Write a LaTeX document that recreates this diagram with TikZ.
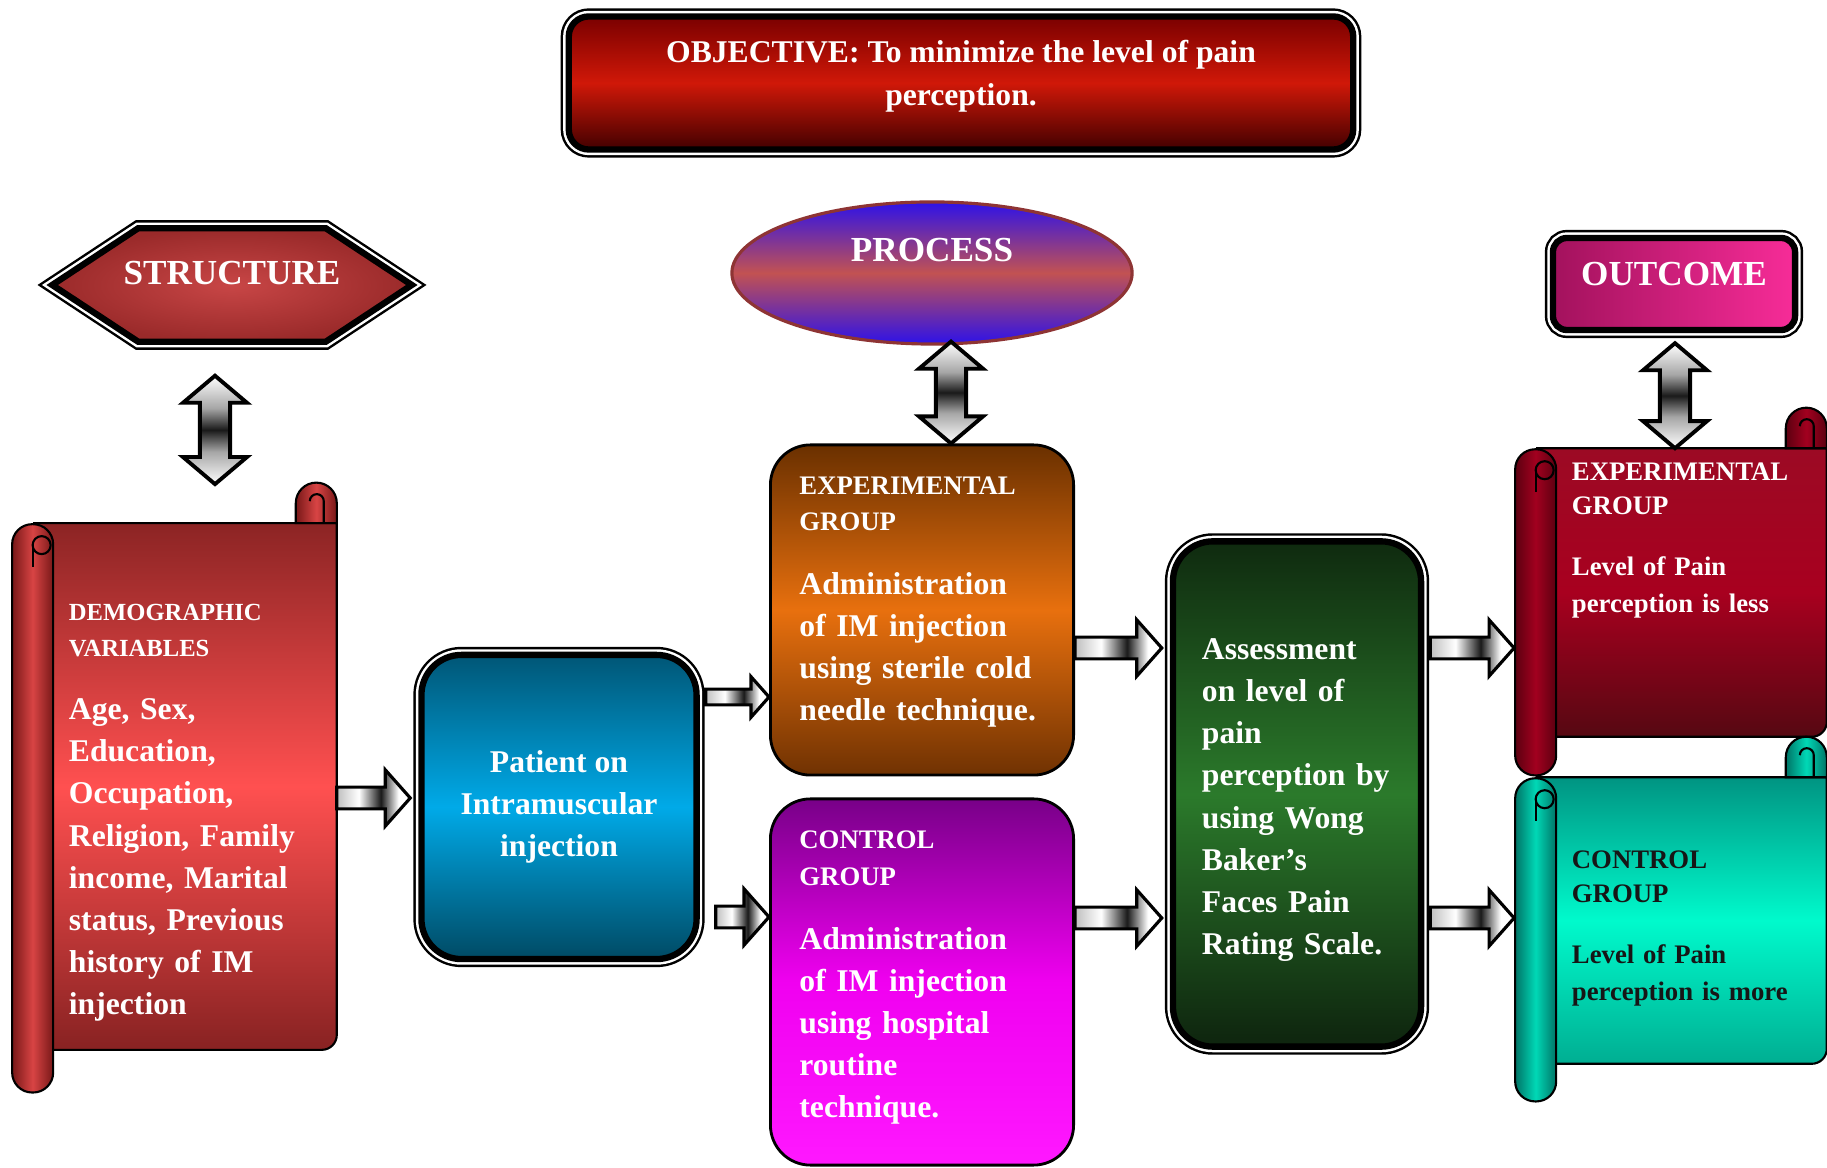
\documentclass[tikz,border=0pt]{standalone}
\usepackage{fontspec}
\setmainfont{Liberation Serif}
\usetikzlibrary{calc,shapes.geometric,backgrounds}

\definecolor{objtop}{HTML}{7A0000}
\definecolor{objmid}{HTML}{D01808}
\definecolor{objbot}{HTML}{420000}
\definecolor{hexin}{HTML}{C84646}
\definecolor{hexout}{HTML}{9A2A2A}
\definecolor{procblue}{HTML}{2E12E8}
\definecolor{procred}{HTML}{C25252}
\definecolor{procline}{HTML}{8E3434}
\definecolor{outleft}{HTML}{A3125D}
\definecolor{outright}{HTML}{F72C98}
\definecolor{demotop}{HTML}{8C2424}
\definecolor{demomid}{HTML}{FF5050}
\definecolor{demobot}{HTML}{882222}
\definecolor{demoedge}{HTML}{781818}
\definecolor{demoroll}{HTML}{D84444}
\definecolor{pattop}{HTML}{005676}
\definecolor{patmid}{HTML}{00AAE8}
\definecolor{patbot}{HTML}{004A64}
\definecolor{exptop}{HTML}{6A3000}
\definecolor{expmid}{HTML}{E8700E}
\definecolor{expbot}{HTML}{703202}
\definecolor{ctrltop}{HTML}{780088}
\definecolor{ctrlmid}{HTML}{F000F0}
\definecolor{ctrlbot}{HTML}{FF18FF}
\definecolor{asstop}{HTML}{0F2A0F}
\definecolor{assmid}{HTML}{2B7A2B}
\definecolor{assbot}{HTML}{0E240E}
\definecolor{lesstop}{HTML}{9C0A24}
\definecolor{lessmid}{HTML}{A8001F}
\definecolor{lessbot}{HTML}{560812}
\definecolor{lessedge}{HTML}{5C0010}
\definecolor{lessroll}{HTML}{A2001F}
\definecolor{moretop}{HTML}{009482}
\definecolor{moremid}{HTML}{00FACC}
\definecolor{morebot}{HTML}{00AE92}
\definecolor{moreedge}{HTML}{007466}
\definecolor{moreroll}{HTML}{00D8B6}
\definecolor{moretext}{HTML}{161616}

\pgfdeclarehorizontalshading{barh}{100bp}{color(0bp)=(black!25); color(25bp)=(black!25);
  color(40bp)=(white); color(55bp)=(black!90); color(67bp)=(white); color(100bp)=(white)}
\pgfdeclareverticalshading{barv}{100bp}{color(0bp)=(white); color(25bp)=(white);
  color(40bp)=(black!35); color(50bp)=(black!90); color(60bp)=(black!35);
  color(75bp)=(white); color(100bp)=(white)}

\tikzset{%
  dblframe/.style={draw=black,line width=1.8pt,
    preaction={draw=black,line width=4.6pt},
    preaction={draw=white,line width=3.2pt}},
  objbox/.style={rectangle,rounded corners=0.2cm,dblframe,
    minimum width=7.84cm,minimum height=1.33cm,text depth=0.2cm,align=center,
    top color=objtop,bottom color=objbot,middle color=objmid,text=white,
    font=\bfseries\fontsize{9}{12.2}\selectfont},
  hexlabel/.style={rectangle,minimum width=3.58cm,minimum height=1.12cm,
    text depth=0.24cm,text=white,font=\bfseries\fontsize{10}{12}\selectfont},
  hexfill/.style={dblframe,inner color=hexin,outer color=hexout},
  procellipse/.style={ellipse,minimum width=4cm,minimum height=1.42cm,inner sep=0pt,
    draw=procline,line width=0.9pt,top color=procblue,bottom color=procblue,
    middle color=procred,text depth=0.46cm,text=white,
    font=\bfseries\fontsize{10}{12}\selectfont},
  outbox/.style={rectangle,rounded corners=0.14cm,dblframe,minimum width=2.42cm,
    minimum height=0.92cm,left color=outleft,right color=outright,text depth=0.2cm,
    text=white,font=\bfseries\fontsize{10}{12}\selectfont},
  roundbox/.style={rectangle,rounded corners=0.4cm,text=white,
    font=\bfseries\fontsize{9}{12}\selectfont},
  patbox/.style={roundbox,dblframe,minimum width=2.75cm,minimum height=3.04cm,
    align=center,top color=pattop,bottom color=patbot,middle color=patmid},
  procbox/.style={roundbox,draw=black,line width=0.8pt,minimum width=3.03cm,
    text width=2.45cm,inner xsep=0.29cm,align=left},
  assbox/.style={roundbox,dblframe,minimum width=2.48cm,minimum height=5.05cm,
    text width=1.9cm,inner xsep=0.29cm,align=left,
    top color=asstop,bottom color=assbot,middle color=assmid},
  scrolltext/.style={rectangle,inner xsep=0.14cm,inner ysep=0pt,align=left,
    text=white,font=\bfseries\fontsize{9}{12}\selectfont},
  outtext/.style={scrolltext,text width=2.40cm,font=\bfseries\fontsize{7.6}{10.5}\selectfont},
  scrollline/.style={draw=black,line width=0.6pt},
  scrollroll/.style={rectangle,scrollline,rounded corners=0.2cm,
    minimum width=0.41cm,inner sep=0pt},
  demofill/.style={top color=demotop,bottom color=demobot,middle color=demomid},
  demorollfill/.style={left color=demoedge,right color=demoedge,middle color=demoroll},
  lessfill/.style={top color=lesstop,bottom color=lessbot,middle color=lessmid},
  lessrollfill/.style={left color=lessedge,right color=lessedge,middle color=lessroll},
  morefill/.style={top color=moretop,bottom color=morebot,middle color=moremid},
  morerollfill/.style={left color=moreedge,right color=moreedge,middle color=moreroll},
  arrowfill/.style={draw=black,line width=0.9pt,shading=barh},
  twowayfill/.style={draw=black,line width=1.1pt,shading=barv}
}

% block arrow from #2 to the x of #3, at the height of #2
\newcommand{\flowarrow}[3][1]{%
  \shadedraw[arrowfill] let \p1=#2, \p2=#3 in
    (\x1,{\y1+#1*3.1pt}) -- ({\x2-#1*7.1pt},{\y1+#1*3.1pt})
    -- ({\x2-#1*7.1pt},{\y1+#1*8pt}) -- (\x2,\y1)
    -- ({\x2-#1*7.1pt},{\y1-#1*8pt}) -- ({\x2-#1*7.1pt},{\y1-#1*3.1pt})
    -- (\x1,{\y1-#1*3.1pt}) -- cycle;}

% vertical double block arrow from #1 down to the height of #2
\newcommand{\twowayarrow}[2]{%
  \shadedraw[twowayfill] let \p1=#1, \p2=#2 in
    (\x1,\y1) -- (\x1+9.1pt,\y1-7.7pt) -- (\x1+4.3pt,\y1-7.7pt)
    -- (\x1+4.3pt,\y2+7.7pt) -- (\x1+9.1pt,\y2+7.7pt) -- (\x1,\y2)
    -- (\x1-9.1pt,\y2+7.7pt) -- (\x1-4.3pt,\y2+7.7pt)
    -- (\x1-4.3pt,\y1-7.7pt) -- (\x1-9.1pt,\y1-7.7pt) -- cycle;}

% scroll sheet behind a text node: body, left roll, curls
\newcommand{\scrollparts}[4]{%
  \begin{scope}[on background layer]
    \shadedraw[scrollline,#2] ($(#1.north west)+(-20,0)$) -- (#1.north east)
      -- ($(#1.south east)+(0,-15)$) arc[start angle=0,end angle=-90,radius=0.15cm]
      -- ($(#1.south west)+(-20,0)$) -- cycle;
    \node[scrollroll,#3,minimum height=#4,anchor=north east] (#1roll) at (#1.north west) {};
    \draw[scrollline] ($(#1roll.north)+(9,22)$) circle[radius=0.09cm];
    \draw[scrollline] ($(#1roll.north)+(0,22)$) -- ++(0,22);
    \shadedraw[scrollline,#3] ($(#1.north east)+(-41,0)$) -- ++(0,-20)
      arc[start angle=180,end angle=0,radius=0.205cm] -- ++(0,20) -- cycle;
    \draw[scrollline] ($(#1.north east)+(-13,0)$) -- ++(0,-22)
      arc[start angle=0,end angle=180,radius=0.07cm];
  \end{scope}}

\begin{document}
\begin{tikzpicture}[x=0.01cm,y=-0.01cm]
\useasboundingbox (0,0) rectangle (1827,1168);

% headings
\node[objbox] (objective) at (961,83) {OBJECTIVE: To minimize the level of pain\\perception.};
\node[hexlabel] (structure) at (232,285) {STRUCTURE};
\begin{scope}[on background layer]
  \shadedraw[hexfill] (structure.west) -- ($(structure.north west)+(86,0)$)
    -- ($(structure.north east)+(-86,0)$) -- (structure.east)
    -- ($(structure.south east)+(-86,0)$) -- ($(structure.south west)+(86,0)$) -- cycle;
\end{scope}
\node[procellipse] (process) at (932,273) {PROCESS};
\node[outbox] (outcome) at (1674,284) {OUTCOME};

% structure
\node[scrolltext,text width=2.53cm,minimum height=5.25cm,text height=0.69cm] (demo) at (195.5,786.5)
  {{\fontsize{7}{10.2}\selectfont DEMOGRAPHIC\\VARIABLES\par}\vspace{6pt}
   Age, Sex,\\Education,\\Occupation,\\Religion, Family\\income, Marital\\status, Previous\\history of IM\\injection};
\scrollparts{demo}{demofill}{demorollfill}{5.68cm}

% process
\node[patbox] (patient) at (559,807) {Patient on\\Intramuscular\\injection};
\node[procbox,minimum height=3.3cm,top color=exptop,bottom color=expbot,middle color=expmid]
  (exp) at (922,610)
  {{\fontsize{7.6}{10.5}\selectfont EXPERIMENTAL\\GROUP\par}\vspace{6pt}
   Administration\\of IM injection\\using sterile cold\\needle technique.\par\vspace*{0.16cm}};
\node[procbox,minimum height=3.66cm,top color=ctrltop,bottom color=ctrlbot,middle color=ctrlmid]
  (control) at (922,982)
  {{\fontsize{7.6}{10.5}\selectfont CONTROL\\GROUP\par}\vspace{6pt}
   Administration\\of IM injection\\using hospital\\routine\\technique.\par\vspace*{0.08cm}};
\node[assbox] (assess) at (1297,794)
  {Assessment\\on level of\\pain\\perception by\\using Wong\\Baker’s\\Faces Pain\\Rating Scale.\par\vspace*{-0.12cm}};

% outcome
\node[outtext,minimum height=2.87cm] (expout) at (1692,592.5)
  {{\fontsize{7.6}{9.7}\selectfont EXPERIMENTAL\\GROUP\par}\vspace{6.9pt}
   Level of Pain\\perception is less\par\vspace*{1.04cm}};
\scrollparts{expout}{lessfill}{lessrollfill}{3.26cm}
\node[outtext,minimum height=2.85cm,text=moretext] (ctrlout) at (1692,920.5)
  {{\fontsize{7.6}{9.7}\selectfont CONTROL\\GROUP\par}\vspace{6.9pt}
   Level of Pain\\perception is more\par\vspace*{-0.16cm}};
\scrollparts{ctrlout}{morefill}{morerollfill}{3.23cm}

% connectors
\coordinate (pdm) at ($(patient.west)+(-8,-9)$);
\coordinate (pe) at ($(exp.west)+(0,87)$);
\coordinate (pc) at ($(control.west)+(0,-65)$);
\coordinate (a1) at ($(assess.west)+(-8,-146)$);
\coordinate (a2) at ($(assess.west)+(-8,124)$);
\flowarrow{(demo.east |- pdm)}{(pdm)};
\flowarrow[0.72]{($(patient.east |- pe)+(6,0)$)}{(pe)};
\flowarrow{($(patient.east |- pc)+(16,0)$)}{(pc)};
\flowarrow{(exp.east |- a1)}{(a1)};
\flowarrow{(control.east |- a2)}{(a2)};
\flowarrow{($(assess.east |- a1)+(6,0)$)}{(expoutroll.west)};
\flowarrow{($(assess.east |- a2)+(6,0)$)}{(ctrloutroll.west)};
\twowayarrow{($(structure.south)+(-17,34)$)}{($(demo.north)+(0,-39)$)};
\twowayarrow{($(process.south)+(19,-4)$)}{(exp.north)};
\twowayarrow{($(outcome.south)+(1,10)$)}{(expout.north)};
\end{tikzpicture}
\end{document}
